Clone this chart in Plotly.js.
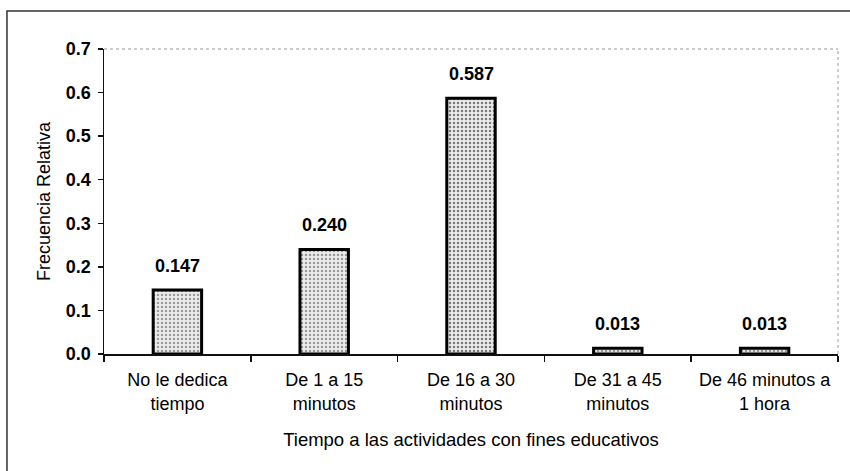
<!DOCTYPE html>
<html>
<head>
<meta charset="utf-8">
<script src="https://cdn.plot.ly/plotly-3.0.1.min.js"></script>
<style>html,body{margin:0;padding:0;background:#fff;}#chart{width:850px;height:471px;}</style>
</head>
<body>
<div id="chart"></div>
<script>
const categories = ["No le dedica<br>tiempo", "De 1 a 15<br>minutos", "De 16 a 30<br>minutos", "De 31 a 45<br>minutos", "De 46 minutos a<br>1 hora"];
const frecuencia = [0.147, 0.240, 0.587, 0.013, 0.013];
const yTicks = [0, 0.1, 0.2, 0.3, 0.4, 0.5, 0.6, 0.7];
const xTitle = "Tiempo a las actividades con fines educativos";
const yTitle = "Frecuencia Relativa";

const FONT = "Arial, 'Liberation Sans', Helvetica, sans-serif";

const trace = {
  type: "bar",
  x: categories,
  y: frecuencia,
  marker: {
    color: "#e0e0e0",
    line: {color: "#000", width: 3},
    pattern: {shape: ".", fgcolor: ["#9a9a9a", "#9a9a9a", "#7a7a7a", "#9a9a9a", "#9a9a9a"],
              bgcolor: "#ececec", size: 4, solidity: 0.3}
  },
  hoverinfo: "none"
};

const annotations = categories.map((c, i) => ({
  x: c, y: frecuencia[i], xref: "x", yref: "y",
  text: frecuencia[i].toFixed(3),
  showarrow: false, yanchor: "bottom", yshift: 12,
  font: {family: FONT, size: 18, color: "#000", weight: 700}
}));

const layout = {
  width: 850, height: 471,
  margin: {l: 104, r: 12, t: 49, b: 117},
  paper_bgcolor: "#fff", plot_bgcolor: "#fff",
  showlegend: false,
  bargap: 0.67,
  font: {family: FONT, color: "#000"},
  xaxis: {
    type: "category",
    showline: true, linecolor: "#111", linewidth: 1.5,
    ticks: "outside", tickson: "boundaries", ticklen: 6, tickcolor: "#111", tickwidth: 1.5,
    tickfont: {family: FONT, size: 18, color: "#000"},
    ticklabelstandoff: 9,
    showgrid: false, zeroline: false,
    title: {text: xTitle, font: {family: FONT, size: 18.5, color: "#000"}, standoff: 20}
  },
  yaxis: {
    range: [0, 0.7],
    tickvals: yTicks, tickformat: ".1f",
    showline: true, linecolor: "#111", linewidth: 1.5,
    ticks: "outside", ticklen: 5, tickcolor: "#111", tickwidth: 1.5,
    tickfont: {family: FONT, size: 18, color: "#000", weight: 700},
    ticklabelstandoff: 3,
    showgrid: false, zeroline: false,
    title: {text: yTitle, font: {family: FONT, size: 18, color: "#000"}, standoff: 10}
  },
  annotations: annotations,
  shapes: [
    {type: "line", xref: "paper", yref: "paper", x0: 0, x1: 1, y0: 1, y1: 1,
     line: {color: "#9a9a9a", width: 1, dash: "dot"}},
    {type: "line", xref: "paper", yref: "paper", x0: 1, x1: 1, y0: 0, y1: 1,
     line: {color: "#9a9a9a", width: 1, dash: "dot"}},
    {type: "path", xref: "paper", yref: "paper",
     path: "M -0.1322,-0.5 L -0.1322,1.1246 L 1.1,1.1246",
     line: {color: "#333", width: 1.5}}
  ]
};

Plotly.newPlot("chart", [trace], layout, {staticPlot: true, displayModeBar: false});
</script>
</body>
</html>
